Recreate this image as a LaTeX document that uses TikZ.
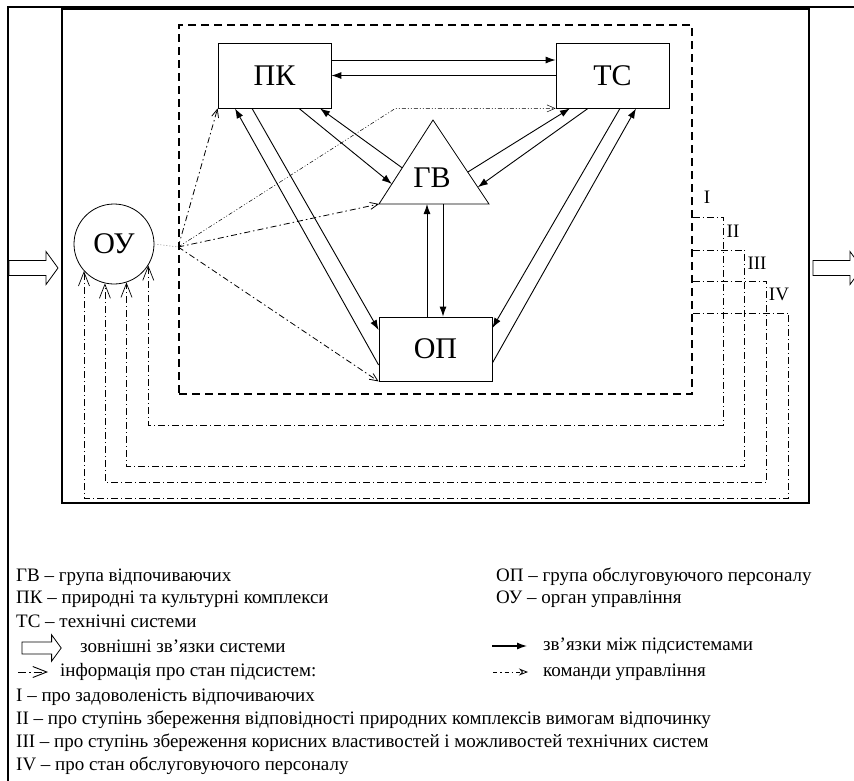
\documentclass[tikz,border=0pt]{standalone}
\usepackage{fontspec}
\setmainfont{Liberation Serif}
\usepackage{tikz}
\usetikzlibrary{arrows.meta}
\usetikzlibrary{calc}
\usetikzlibrary{shapes.geometric}

\tikzset{
  subsys/.style={draw, line width=0.8pt, minimum width=113pt, minimum height=65pt, inner sep=0pt, font=\fontsize{30}{30}\selectfont},
  link/.style={line width=0.9pt, -{Latex[length=10pt,width=7pt]}},
  command/.style={line width=0.8pt, dash pattern=on 6pt off 3pt on 1.5pt off 3pt, -{Straight Barb[length=8pt,width=7pt]}},
  faintcommand/.style={command, line width=0.5pt, dash pattern=on 4pt off 2pt on 1pt off 2pt on 1pt off 2pt},
  info/.style={line width=0.7pt, dash pattern=on 7pt off 3pt on 1pt off 3pt, -{Straight Barb[length=14pt,width=11pt]}},
  flowarrow/.pic={
    \draw[line width=0.8pt] (0,-7.5) -- (37,-7.5) -- (37,-16.5) -- (49,0) -- (37,16.5) -- (37,7.5) -- (0,7.5) -- cycle;
  },
  levellabel/.style={inner sep=0pt, font=\fontsize{19}{19}\selectfont},
  legendtext/.style={anchor=west, inner sep=0pt, font=\fontsize{19}{23}\selectfont},
}

\begin{document}
\begin{tikzpicture}[x=1pt,y=-1pt]
        \newcommand{\rsboxwidth}{113}
        \newcommand{\rsboxheight}{65}
        \newcommand{\rslegendleftx}{16}
        \newcommand{\rslegendrightx}{496}
        \useasboundingbox (0,0) rectangle (854,780);
        \clip (0,0) rectangle (854,780);
        \draw[line width=2pt] (8,900) -- (8,6.5) -- (900,6.5);
        \node[draw, line width=2.5pt, minimum width=747pt, minimum height=494pt, inner sep=0pt] (frame) at (435.5,256) {};
        \node[draw, line width=1.6pt, dash pattern=on 8pt off 5pt, minimum width=513pt, minimum height=369pt, inner sep=0pt] (sys) at (435.5,209.5) {};
        \pic (inflow) at (9,268) {flowarrow};
        \pic (outflow) at (813,268) {flowarrow};
        \node[subsys, minimum width=\rsboxwidth pt, minimum height=\rsboxheight pt] (pk) at (274.5,75.5) {ПК};
        \node[subsys, minimum width=\rsboxwidth pt, minimum height=\rsboxheight pt] (ts) at (612.5,75.5) {ТС};
        \node[subsys, minimum height=64pt] (op) at (435.5,349) {ОП};
        \node[circle, draw, line width=0.8pt, minimum size=80pt, inner sep=0pt, font=\fontsize{30}{30}\selectfont] (ou) at (114,244) {ОУ};
        \coordinate (gvA) at (433,120);
        \coordinate (gvL) at (379,204);
        \coordinate (gvR) at (489,204);
        \draw[line width=0.8pt] (gvA) -- (gvL) -- (gvR) -- cycle;
        \node[inner sep=0pt, font=\fontsize{30}{30}\selectfont] (gv) at (432,178) {ГВ};
        \draw[link] ([yshift=15.5pt]pk.east) -- ([yshift=15.5pt]ts.west);
        \draw[link] (ts.west) -- (pk.east);
        \draw[link] ([xshift=24.5pt]pk.south) -- ($(gvL)!0.238!(gvA)$);
        \draw[link] ($(gvL)!0.43!(gvA)$) -- ([xshift=45.5pt]pk.south);
        \draw[link] ($(gvR)!0.38!(gvA)$) -- ([xshift=-42.5pt]ts.south);
        \draw[link] ([xshift=-24.5pt]ts.south) -- ($(gvR)!0.2!(gvA)$);
        \draw[link] ([xshift=-22.5pt]pk.south) -- ([yshift=19pt]op.west);
        \draw[link] ([yshift=-16pt]op.west) -- ([xshift=-39.5pt]pk.south);
        \draw[link] ([xshift=7.5pt]ts.south) -- ([yshift=21pt]op.east);
        \draw[link] ([yshift=-14pt]op.east) -- ([xshift=23.5pt]ts.south);
        \draw[link] ([xshift=-8.5pt]op.north) -- ([xshift=-8.5pt]op.north |- gvL);
        \draw[link] ([xshift=7.5pt]op.north |- gvL) -- ([xshift=7.5pt]op.north);
        \coordinate (hub) at ($(sys.west)+(0,37.5)$);
        \draw[line width=0.6pt, gray, dash pattern=on 1pt off 2pt] (ou.east) -- (hub);
        \draw[command] (hub) -- (pk.south west);
        \draw[faintcommand] (hub) -- ($(pk.south east)+(64,0)$) -- (ts.south west);
        \draw[command] (hub) -- (gvL);
        \draw[command] (hub) -- (op.south west);
        \draw[info] ($(sys.north east)+(0,193)$) -- ++(31,0) -- ++(0,208) -| (ou.-32);
        \draw[info] ($(sys.north east)+(0,226)$) -- ++(52,0) -- ++(0,216) -| (ou.-72.5);
        \draw[info] ($(sys.north east)+(0,257)$) -- ++(74,0) -- ++(0,201) -| (ou.-103);
        \draw[info] ($(sys.north east)+(0,289)$) -- ++(96,0) -- ++(0,185) -| (ou.-138.6);
        \node[levellabel] (labI) at (707,197) {I};
        \node[levellabel] (labII) at (733,231) {II};
        \node[levellabel] (labIII) at (757,263) {III};
        \node[levellabel] (labIV) at (779,294) {IV};
        \node[legendtext] (lgv) at (\rslegendleftx,577) {ГВ – група відпочиваючих};
        \node[legendtext] (lpk) at (\rslegendleftx,599) {ПК – природні та культурні комплекси};
        \node[legendtext] (lts) at (\rslegendleftx,621) {ТС – технічні системи};
        \node[legendtext] (lop) at (\rslegendrightx,577) {ОП – група обслуговуючого персоналу};
        \node[legendtext] (lou) at (\rslegendrightx,599) {ОУ – орган управління};
        \pic[scale=0.8] (lflow) at (22,648) {flowarrow};
        \node[legendtext] (lflowtext) at (80,646) {зовнішні зв’язки системи};
        \node[legendtext] (llink) at (543,646) {зв’язки між підсистемами};
        \draw[link, line width=1.2pt] ([xshift=-51pt]llink.west) -- ([xshift=-16pt]llink.west);
        \node[legendtext] (linfo) at (60,672) {інформація про стан підсистем:};
        \draw[info, line width=0.9pt, dash pattern=on 8pt off 3pt on 1.5pt off 3pt] ([xshift=-42pt]linfo.west) -- ([xshift=-12pt]linfo.west);
        \node[legendtext] (lcommand) at (543,672) {команди управління};
        \draw[command, dash pattern=on 4pt off 3pt on 1.5pt off 3pt, -{Stealth[length=9pt,width=7pt,open]}] ([xshift=-50pt]lcommand.west) -- ([xshift=-15pt]lcommand.west);
        \node[legendtext] (lI) at (\rslegendleftx,697) {I – про задоволеність відпочиваючих};
        \node[legendtext] (lII) at (\rslegendleftx,720) {II – про ступінь збереження відповідності природних комплексів вимогам відпочинку};
        \node[legendtext] (lIII) at (\rslegendleftx,743) {III – про ступінь збереження корисних властивостей і можливостей технічних систем};
        \node[legendtext] (lIV) at (\rslegendleftx,766) {IV – про стан обслуговуючого персоналу};
\end{tikzpicture}
\end{document}
